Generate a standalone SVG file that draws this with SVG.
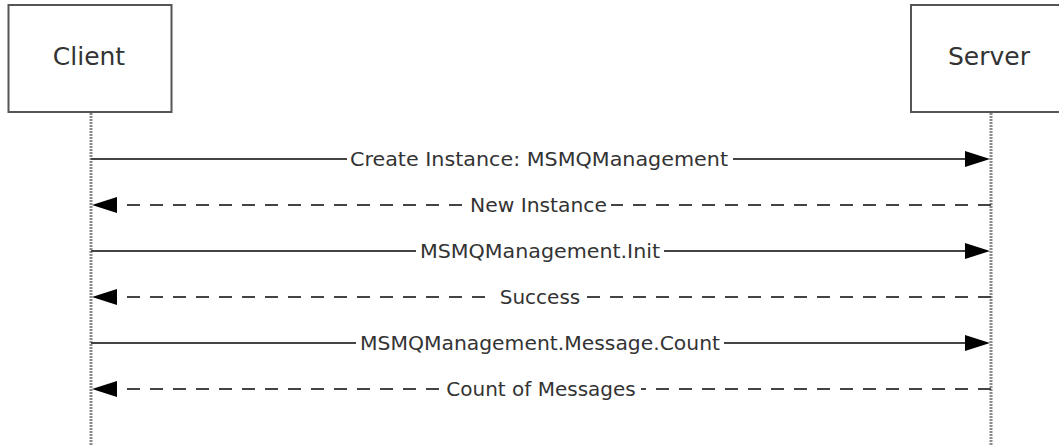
<svg xmlns="http://www.w3.org/2000/svg" width="1059" height="445" viewBox="0 0 1059 445">
<style>
.box{fill:#fff;stroke:#555;stroke-width:2}
.life{stroke:#8a8a8a;stroke-width:3;stroke-dasharray:2 1}
.hdr{font-family:"DejaVu Sans",Verdana,sans-serif;font-size:25px;fill:#333;text-anchor:middle}
.msg{stroke:#444;stroke-width:2;fill:none}
.dash{stroke-dasharray:13 10}
.lbl{font-family:"DejaVu Sans",Verdana,sans-serif;font-size:20px;fill:#333;text-anchor:middle}
.bg{fill:#fff}
</style>
<defs>
<marker id="ah" markerUnits="userSpaceOnUse" markerWidth="26" markerHeight="18" refX="15" refY="8" orient="auto">
<path d="M0,0 L25,8 L0,16 z" fill="#000"/>
</marker>
</defs>
<g id="client">
<rect class="box" x="8.5" y="5" width="163" height="107"/>
<text class="hdr" x="89" y="65">Client</text>
<line class="life" x1="91" y1="113" x2="91" y2="445"/>
</g>
<g id="server">
<rect class="box" x="911" y="5" width="163" height="107"/>
<text class="hdr" x="989" y="65">Server</text>
<line class="life" x1="991" y1="113" x2="991" y2="445"/>
</g>
<g id="connectors">
<g id="m1">
<line class="msg" x1="91" y1="159" x2="980" y2="159" marker-end="url(#ah)"/>
<rect class="bg" x="347" y="148" width="386" height="22"/>
<text class="lbl" x="539" y="166.3" textLength="378" lengthAdjust="spacingAndGlyphs">Create Instance: MSMQManagement</text>
</g>
<g id="m2">
<line class="msg dash" x1="991" y1="205" x2="102" y2="205" marker-end="url(#ah)"/>
<rect class="bg" x="466" y="194" width="145" height="22"/>
<text class="lbl" x="538.5" y="212.3" textLength="137" lengthAdjust="spacingAndGlyphs">New Instance</text>
</g>
<g id="m3">
<line class="msg" x1="91" y1="251" x2="980" y2="251" marker-end="url(#ah)"/>
<rect class="bg" x="416" y="240" width="248" height="22"/>
<text class="lbl" x="540" y="258.3" textLength="240" lengthAdjust="spacingAndGlyphs">MSMQManagement.Init</text>
</g>
<g id="m4">
<line class="msg dash" x1="991" y1="297" x2="102" y2="297" marker-end="url(#ah)"/>
<rect class="bg" x="495" y="286" width="90" height="22"/>
<text class="lbl" x="540" y="304.3">Success</text>
</g>
<g id="m5">
<line class="msg" x1="91" y1="343" x2="980" y2="343" marker-end="url(#ah)"/>
<rect class="bg" x="356" y="332" width="368" height="22"/>
<text class="lbl" x="540" y="350.3" textLength="360" lengthAdjust="spacingAndGlyphs">MSMQManagement.Message.Count</text>
</g>
<g id="m6">
<line class="msg dash" x1="991" y1="389" x2="102" y2="389" marker-end="url(#ah)"/>
<rect class="bg" x="442" y="378" width="199" height="22"/>
<text class="lbl" x="541" y="396.3">Count of Messages</text>
</g>
</g>
</svg>
